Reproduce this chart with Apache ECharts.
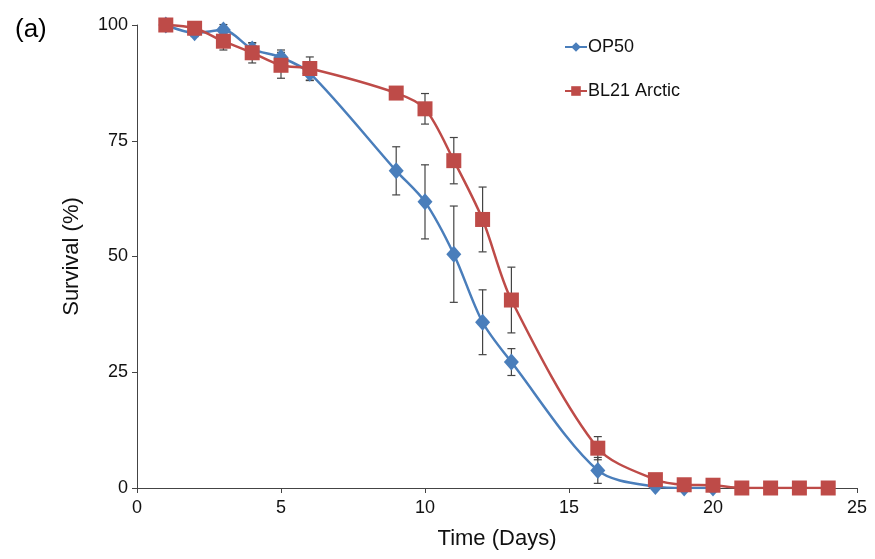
<!DOCTYPE html>
<html>
<head>
<meta charset="utf-8">
<script src="https://cdn.jsdelivr.net/npm/echarts@6/dist/echarts.min.js"></script>
<style>
  html, body { margin: 0; padding: 0; background: #fff; }
  #chart { width: 875px; height: 559px; }
</style>
</head>
<body>
<div id="chart"></div>
<script>
// survival data
const opDays = [1, 2, 3, 4, 5, 6, 9, 10, 11, 12, 13, 16, 18, 19, 20];
const opSurvival = [100, 98.3, 98.9, 94.8, 93.0, 89.6, 68.5, 61.8, 50.5, 35.8, 27.2, 3.8, 0.3, 0, 0];
const opSem = [0, 0.8, 1.2, 1.3, 1.6, 1.6, 5.2, 8.0, 10.4, 7.0, 2.9, 2.8, 0, 0, 0];

const blDays = [1, 2, 3, 4, 5, 6, 9, 10, 11, 12, 13, 16, 18, 19, 20, 21, 22, 23, 24];
const blSurvival = [100, 99.3, 96.5, 94.0, 91.3, 90.6, 85.3, 81.9, 70.7, 58.0, 40.6, 8.6, 1.8, 0.7, 0.6, 0, 0, 0, 0];
const blSem = [0, 0.5, 1.9, 2.2, 2.8, 2.5, 0, 3.3, 5.0, 7.0, 7.1, 2.5, 0, 0, 0, 0, 0, 0, 0];

const xTicks = [0, 5, 10, 15, 20, 25];
const yTicks = [0, 25, 50, 75, 100];

const blue = '#4a7ebb';
const red = '#be4b48';
const font = 'Liberation Sans, Arial, sans-serif';

function pairs(days, vals) {
  return days.map((d, i) => [d, vals[i]]);
}
function errRows(days, vals, sem) {
  const out = [];
  days.forEach((d, i) => {
    if (sem[i] > 0) out.push([d, vals[i] - sem[i], vals[i] + sem[i]]);
  });
  return out;
}

// error bar with little caps
function renderErr(params, api) {
  const lo = api.coord([api.value(0), api.value(1)]);
  const hi = api.coord([api.value(0), api.value(2)]);
  const w = 4;
  const style = { stroke: '#444', lineWidth: 1.2 };
  return {
    type: 'group',
    children: [
      { type: 'line', shape: { x1: lo[0], y1: lo[1], x2: hi[0], y2: hi[1] }, style: style },
      { type: 'line', shape: { x1: lo[0] - w, y1: lo[1], x2: lo[0] + w, y2: lo[1] }, style: style },
      { type: 'line', shape: { x1: hi[0] - w, y1: hi[1], x2: hi[0] + w, y2: hi[1] }, style: style }
    ]
  };
}

const chart = echarts.init(document.getElementById('chart'));

const axisFont = { fontFamily: font, fontSize: 18, color: '#111' };

const option = {
  backgroundColor: '#fff',
  animation: false,
  textStyle: { fontFamily: font },
  title: {
    text: '(a)',
    left: 10,
    top: 12,
    textStyle: { fontSize: 26, fontWeight: 'normal', color: '#000', fontFamily: font }
  },
  legend: {
    orient: 'vertical',
    left: 559,
    top: 33,
    itemGap: 26,
    itemWidth: 22,
    itemHeight: 12,
    data: ['OP50', 'BL21 Arctic'],
    textStyle: { fontSize: 18, color: '#111', fontFamily: font, padding: [0, 0, 0, -4] }
  },
  grid: { left: 137, right: 18, top: 25, bottom: 71 },
  xAxis: {
    type: 'value',
    min: xTicks[0],
    max: xTicks[xTicks.length - 1],
    interval: 5,
    name: 'Time (Days)',
    nameLocation: 'middle',
    nameGap: 40,
    nameTextStyle: { fontSize: 22, color: '#111', fontFamily: font },
    axisLine: { lineStyle: { color: '#444', width: 1 } },
    axisTick: { show: true, length: 5, lineStyle: { color: '#444' } },
    axisLabel: Object.assign({ margin: 11 }, axisFont),
    splitLine: { show: false }
  },
  yAxis: {
    type: 'value',
    min: yTicks[0],
    max: yTicks[yTicks.length - 1],
    interval: 25,
    name: 'Survival (%)',
    nameLocation: 'middle',
    nameGap: 54,
    nameTextStyle: { fontSize: 22, color: '#111', fontFamily: font },
    axisLine: { show: true, lineStyle: { color: '#444', width: 1 } },
    axisTick: { show: true, length: 5, lineStyle: { color: '#444' } },
    axisLabel: Object.assign({ margin: 9 }, axisFont),
    splitLine: { show: false }
  },
  series: [
    {
      name: 'OP50 err',
      type: 'custom',
      renderItem: renderErr,
      data: errRows(opDays, opSurvival, opSem),
      z: 1,
      silent: true
    },
    {
      name: 'BL21 err',
      type: 'custom',
      renderItem: renderErr,
      data: errRows(blDays, blSurvival, blSem),
      z: 1,
      silent: true
    },
    {
      name: 'OP50',
      type: 'line',
      smooth: 0.3,
      data: pairs(opDays, opSurvival),
      symbol: 'diamond',
      symbolSize: [15, 17],
      itemStyle: { color: blue },
      lineStyle: { color: blue, width: 2.5 },
      z: 3
    },
    {
      name: 'BL21 Arctic',
      type: 'line',
      smooth: 0.3,
      data: pairs(blDays, blSurvival),
      symbol: 'rect',
      symbolSize: 15,
      itemStyle: { color: red },
      lineStyle: { color: red, width: 2.5 },
      z: 4
    }
  ]
};

chart.setOption(option);
</script>
</body>
</html>
